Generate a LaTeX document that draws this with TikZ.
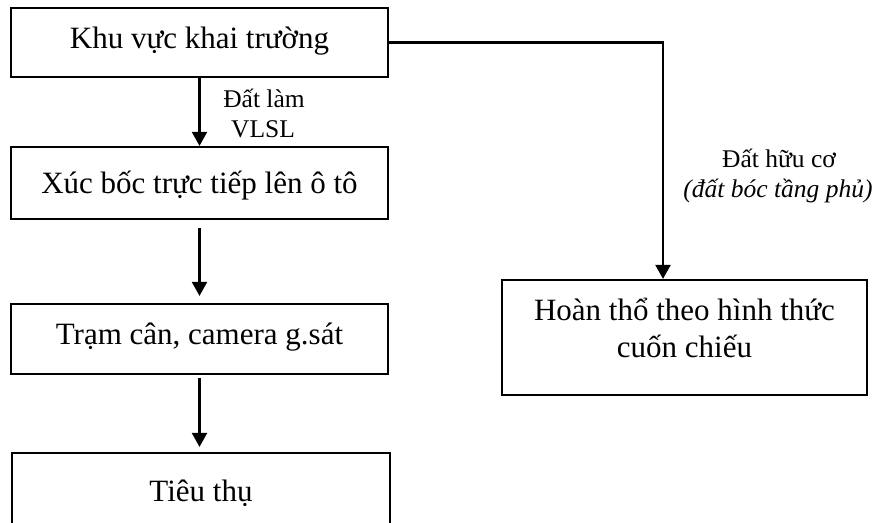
\documentclass[tikz,border=0pt]{standalone}
\usepackage{fontspec}
\setmainfont{Liberation Serif}
\usetikzlibrary{arrows.meta}
\begin{document}
\begin{tikzpicture}[x=1pt,y=-1pt,
  box/.style={draw, line width=2.2pt, inner sep=0pt, font=\fontsize{31}{37}\selectfont, align=center},
  lab/.style={inner sep=0pt, font=\fontsize{25.5}{30}\selectfont, anchor=base},
  arr/.style={line width=2.2pt, -{Triangle[width=15pt,length=14pt]}}]
\useasboundingbox (0,0) rectangle (877,522);
\begin{scope}
\clip (0,0) rectangle (877,522);
\node[box, minimum width=377pt, minimum height=69pt, text height=40pt, text depth=29pt] (b1) at (199.5,42.5) {Khu vực khai trường};
\node[box, minimum width=377pt, minimum height=72pt, text height=46pt, text depth=26pt] (b2) at (199.5,183) {Xúc bốc trực tiếp lên ô tô};
\node[box, minimum width=377pt, minimum height=70pt, text height=40pt, text depth=30pt] (b3) at (199.5,339) {Trạm cân, camera g.sát};
\node[box, minimum width=378pt, minimum height=90pt, text height=48pt, text depth=42pt] (b4) at (201,498) {Tiêu thụ};
\node[box, minimum width=365pt, minimum height=115pt, text height=77pt, text depth=38pt] (b5) at (684.5,337.5) {Hoàn thổ theo hình thức\\cuốn chiếu};
\end{scope}
\draw[arr] (b1.south) -- (b2.north);
\draw[arr, shorten <=8pt, shorten >=7pt] (b2.south) -- (b3.north);
\draw[arr, shorten <=3pt, shorten >=5pt] (b3.south) -- (b3.south |- b4.north);
\draw[arr] (b1.east) -| ([xshift=-21.5pt]b5.north);
\node[lab] (l1) at (264,107) {Đất làm};
\node[lab] (l2) at (263,137) {VLSL};
\node[lab] (l3) at (779,167) {Đất hữu cơ};
\node[lab] (l4) at (778,197) {\itshape (đất bóc tầng phủ)};
\end{tikzpicture}
\end{document}
